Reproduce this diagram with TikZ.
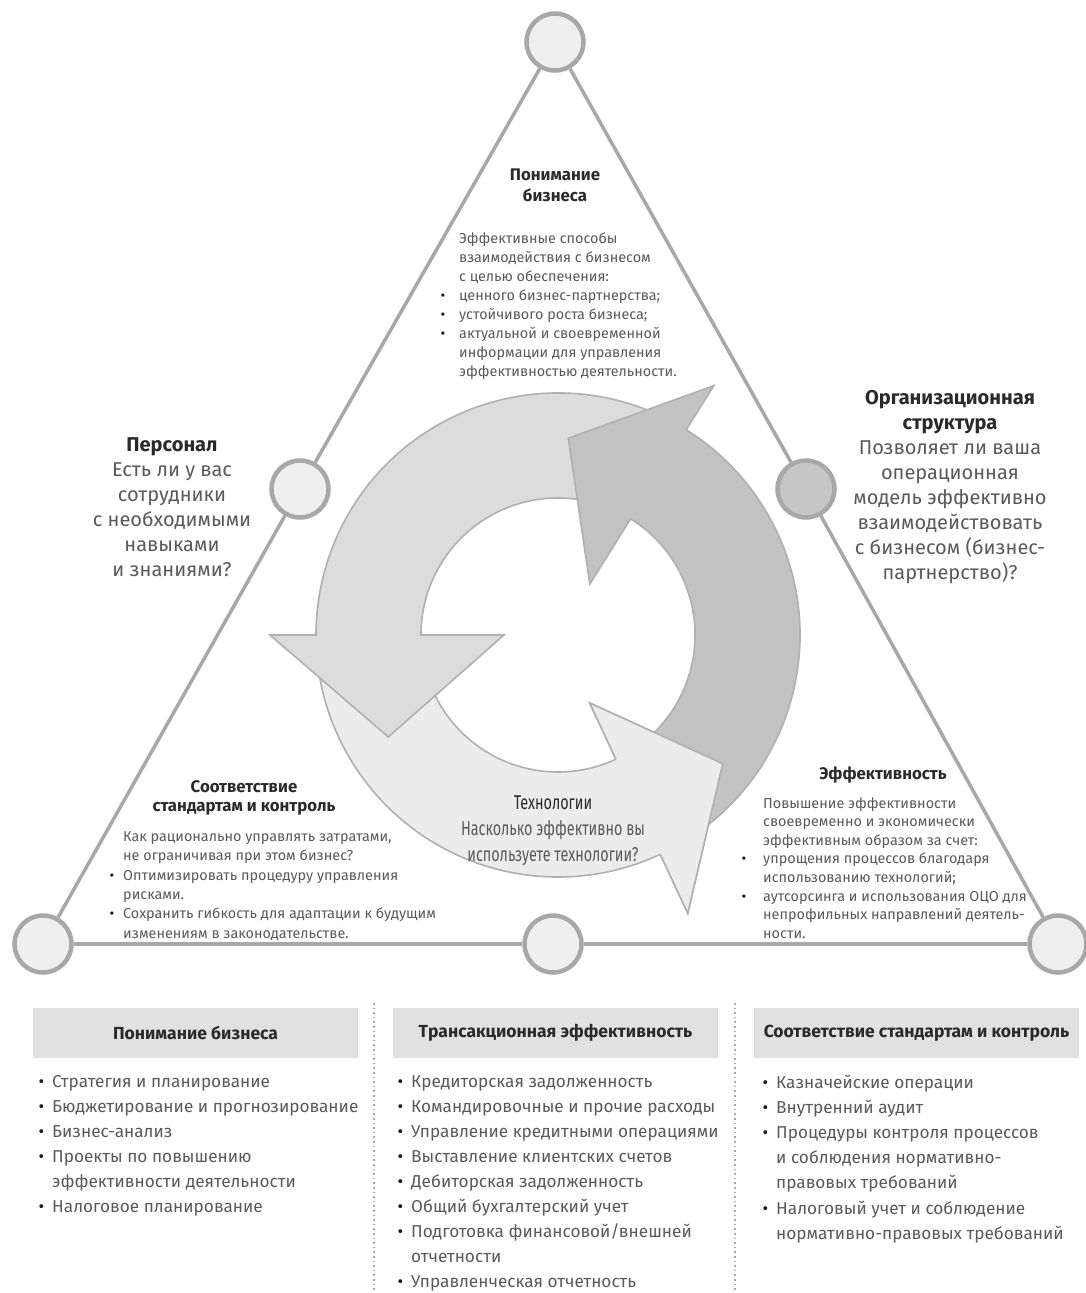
\documentclass[tikz,border=0pt]{standalone}
\usepackage{fontspec}
\setmainfont{Fira Sans}
\newfontfamily\condfont[FakeStretch=0.72]{Fira Sans}
\usetikzlibrary{calc}
\pgfdeclarelayer{bg}
\pgfsetlayers{bg,main}

\definecolor{linec}{HTML}{A8A8A8}
\definecolor{circf}{HTML}{EFEFEF}
\definecolor{circd}{HTML}{C6C6C6}
\definecolor{ringl}{HTML}{B0B0B0}
\definecolor{arrA}{HTML}{DCDCDC}
\definecolor{arrB}{HTML}{C2C2C2}
\definecolor{arrC}{HTML}{ECECEC}
\definecolor{boxf}{HTML}{E1E1E1}
\definecolor{headc}{HTML}{2A2A2A}
\definecolor{bodyc}{HTML}{5A5A5A}
\definecolor{bulc}{HTML}{1A1A1A}

\newcommand\bul[1]{\llap{\textcolor{bulc}{\textbullet}\hspace{#1pt}}}
\def\Rin{137}
\def\Rout{242}
% #1 tail angle, #2 head base angle, #3 fill, #4 outer barb r, #5 inner barb r, #6 tip angle, #7 tip r
\newcommand\ringarrow[7]{%
  \filldraw[ringarrow, fill=#3] (#1:\Rout) arc[start angle=#1, end angle=#2, radius=\Rout]
    -- (#2:#4) -- (#6:#7) -- (#2:#5) -- (#2:\Rin)
    arc[start angle=#2, end angle=#1, radius=\Rin] -- cycle;}

\tikzset{
  knot/.style={circle, draw=linec, line width=4.5pt, fill=circf, minimum size=57pt, inner sep=0pt},
  triline/.style={draw=linec, line width=3.5pt},
  ringarrow/.style={draw=ringl, line width=1.6pt, line join=miter},
  body/.style={inner sep=0pt, text=bodyc},
  hbox/.style={fill=boxf, minimum width=325pt, minimum height=50pt, inner sep=0pt,
    text=headc, font=\fontsize{17.5}{20}\selectfont\bfseries},
  dotline/.style={draw=linec, line width=1.6pt, dash pattern=on 1.6pt off 3pt},
  smalltitle/.style={inner sep=0pt, anchor=north, align=center, text=headc},
}

\begin{document}
\begin{tikzpicture}[x=1pt,y=-1pt]
\useasboundingbox (0,0) rectangle (1086,1293);
\begin{pgfonlayer}{bg}
\fill[white] (0,0) rectangle (1086,1293);
\end{pgfonlayer}

% ---- triangle knots
\node[knot] (top) at (555,42) {};
\node[knot] (lm) at (300,489) {};
\node[knot, fill=circd] (rm) at (806,489) {};
\node[knot] (bl) at (43,944) {};
\node[knot] (bm) at (553,944) {};
\node[knot] (br) at (1058,944) {};
\begin{pgfonlayer}{bg}
\draw[triline] (top) -- (lm);
\draw[triline] (lm) -- (bl);
\draw[triline] (bl) -- (bm);
\draw[triline] (bm) -- (br);
\draw[triline] (br) -- (rm);
\draw[triline] (rm) -- (top);
\end{pgfonlayer}

% ---- cycle of three arrows
\begin{scope}[shift={(558,635)}, yscale=-1]
  \ringarrow{183}{295}{arrC}{307}{75}{322}{209}
  \ringarrow{63}{180}{arrA}{288}{54}{211}{198}
  \ringarrow{-62}{58}{arrB}{294}{60}{87}{197}
  \fill[arrC] (295:307) -- (322:209) -- (295:75) -- cycle;
  \draw[ringarrow] (295:\Rout) -- (295:307) -- (322:209) -- (295:75) -- (295:\Rin);
\end{scope}

% ---- texts in triangle
\node[smalltitle, font=\fontsize{16.8}{21}\selectfont\bfseries] (ttitle) at (555,169) {Понимание\\бизнеса};
\node[body, anchor=north west, align=left, font=\fontsize{14.4}{19}\selectfont] (tbody) at (459,232.5)
 {Эффективные способы\\
  взаимодействия с бизнесом\\
  с целью обеспечения:\\
  \bul{14}ценного бизнес-партнерства;\\
  \bul{14}устойчивого роста бизнеса;\\
  \bul{14}актуальной и своевременной\\
  информации для управления\\
  эффективностью деятельности.};

\node[body, anchor=north, align=center, font=\fontsize{20}{25}\selectfont] (lblock) at (172,437)
 {{\bfseries\color{headc}Персонал}\\
  Есть ли у вас\\
  сотрудники\\
  с необходимыми\\
  навыками\\
  и знаниями?};

\node[body, anchor=north, align=center, font=\fontsize{20}{25}\selectfont] (rblock) at (950,390)
 {{\bfseries\color{headc}Организационная}\\
  {\bfseries\color{headc}структура}\\
  Позволяет ли ваша\\
  операционная\\
  модель эффективно\\
  взаимодействовать\\
  с бизнесом (бизнес-\\
  партнерство)?};

\node[smalltitle, font=\fontsize{16.8}{19}\selectfont\bfseries] (bltitle) at (244,780) {Соответствие\\стандартам и контроль};
\node[body, anchor=north west, align=left, font=\fontsize{14.4}{19.3}\selectfont] (blbody) at (123,831.5)
 {Как рационально управлять затратами,\\
  не ограничивая при этом бизнес?\\
  \bul{9}Оптимизировать процедуру управления\\
  рисками.\\
  \bul{9}Сохранить гибкость для адаптации к будущим\\
  изменениям в законодательстве.};

\node[smalltitle, font=\fontsize{16.8}{19}\selectfont\bfseries] (brtitle) at (883,767) {Эффективность};
\node[body, anchor=north west, align=left, font=\fontsize{14.4}{18.6}\selectfont] (brbody) at (763,797)
 {Повышение эффективности\\
  своевременно и экономически\\
  эффективным образом за счет:\\
  \bul{17}упрощения процессов благодаря\\
  использованию технологий;\\
  \bul{17}аутсорсинга и использования ОЦО для\\
  непрофильных направлений деятель-\\
  ности.};

\node[body, anchor=north, align=center, font=\fontsize{20}{26}\selectfont\condfont] (tech) at (553,796)
 {{\color{headc}Технологии}\\
  Насколько эффективно вы\\
  используете технологии?};

% ---- bottom columns
\node[hbox] (h1) at (195.5,1033) {Понимание бизнеса};
\node[hbox] (h2) at (555.5,1033) {Трансакционная эффективность};
\node[hbox] (h3) at (916.5,1033) {Соответствие стандартам и контроль};

\draw[dotline] (374,1003) -- (374,1293);
\draw[dotline] (735,1003) -- (735,1293);

\node[body, anchor=north west, align=left, font=\fontsize{17.2}{25.1}\selectfont] (l1) at (52,1075)
 {\bul{8}Стратегия и планирование\\
  \bul{8}Бюджетирование и прогнозирование\\
  \bul{8}Бизнес-анализ\\
  \bul{8}Проекты по повышению\\
  эффективности деятельности\\
  \bul{8}Налоговое планирование};
\node[body, anchor=north west, align=left, font=\fontsize{17.2}{25.1}\selectfont] (l2) at (411,1075)
 {\bul{8}Кредиторская задолженность\\
  \bul{8}Командировочные и прочие расходы\\
  \bul{8}Управление кредитными операциями\\
  \bul{8}Выставление клиентских счетов\\
  \bul{8}Дебиторская задолженность\\
  \bul{8}Общий бухгалтерский учет\\
  \bul{8}Подготовка финансовой/внешней\\
  отчетности\\
  \bul{8}Управленческая отчетность};
\node[body, anchor=north west, align=left, font=\fontsize{17.2}{25.1}\selectfont] (l3) at (776,1075)
 {\bul{8}Казначейские операции\\
  \bul{8}Внутренний аудит\\
  \bul{8}Процедуры контроля процессов\\
  и соблюдения нормативно-\\
  правовых требований\\
  \bul{8}Налоговый учет и соблюдение\\
  нормативно-правовых требований};
\end{tikzpicture}
\end{document}
